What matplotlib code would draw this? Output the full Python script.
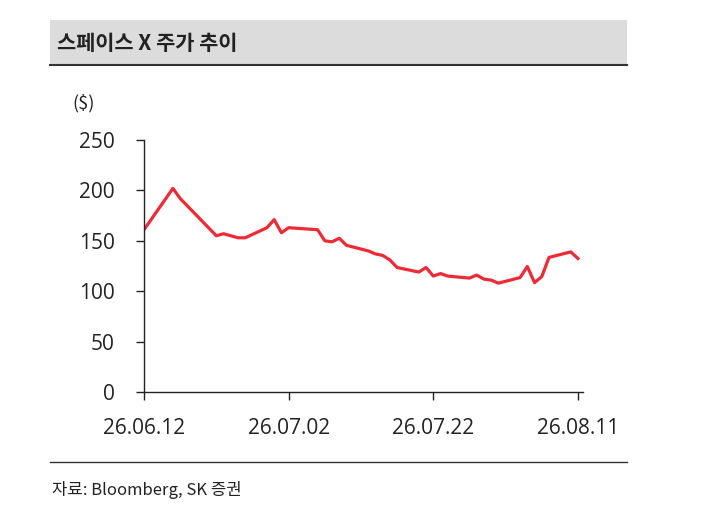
import matplotlib
matplotlib.use("Agg")
import matplotlib.pyplot as plt
import pandas as pd

plt.rcParams['font.family'] = ['Noto Sans CJK KR', 'DejaVu Sans']

# SpaceX share price
dates = ["2026-06-12", "2026-06-16", "2026-06-17", "2026-06-22", "2026-06-23",
         "2026-06-24", "2026-06-25", "2026-06-26", "2026-06-29", "2026-06-30",
         "2026-07-01", "2026-07-02", "2026-07-06", "2026-07-07", "2026-07-08",
         "2026-07-09", "2026-07-10", "2026-07-13", "2026-07-14", "2026-07-15",
         "2026-07-16", "2026-07-17", "2026-07-20", "2026-07-21", "2026-07-22",
         "2026-07-23", "2026-07-24", "2026-07-27", "2026-07-28", "2026-07-29",
         "2026-07-30", "2026-07-31", "2026-08-03", "2026-08-04", "2026-08-05",
         "2026-08-06", "2026-08-07", "2026-08-10", "2026-08-11"]
price = [161, 202, 192, 155, 157,
         155, 153, 153, 163, 171,
         158, 163, 161, 150, 149,
         152.5, 145.5, 140, 137, 135.5,
         131, 123.5, 119, 123.5, 115,
         117.5, 115, 113, 116, 112,
         111, 108, 113.5, 124.5, 108.5,
         114.5, 133.5, 139, 132.5]

xtick_dates = ["2026-06-12", "2026-07-02", "2026-07-22", "2026-08-11"]
xtick_labels = ["26.06.12", "26.07.02", "26.07.22", "26.08.11"]
yticks = [0, 50, 100, 150, 200, 250]

title = "스페이스 X 주가 추이"
unit = "($)"
source = "자료: Bloomberg, SK 증권"

x = pd.to_datetime(dates)
xt = pd.to_datetime(xtick_dates)

fig = plt.figure(figsize=(7.04, 5.22), dpi=100)

# header band
W, H = 704, 522
fig.patches.append(plt.Rectangle((50 / W, 1 - 65 / H), 577 / W, 45 / H,
                                 transform=fig.transFigure, facecolor="#dcdcdc",
                                 edgecolor="none", zorder=0))
fig.add_artist(plt.Line2D([50 / W, 627 / W], [1 - 65 / H, 1 - 65 / H],
                          transform=fig.transFigure, color="#333333", lw=1.5))
fig.text(57 / W, 1 - 43 / H, title, fontsize=15, fontweight="bold",
         color="#222222", va="center", ha="left")

# bottom rule and source
fig.add_artist(plt.Line2D([50 / W, 627 / W], [1 - 462 / H, 1 - 462 / H],
                          transform=fig.transFigure, color="#333333", lw=1.0))
fig.text(52 / W, 1 - 490 / H, source, fontsize=12, color="#222222",
         va="center", ha="left")

ax = fig.add_axes([144 / W, 1 - 392 / H, 439 / W, 252 / H])
ax.plot(x, price, color="#ee2a35", lw=2.3, solid_joinstyle="round")

ax.set_ylim(0, 250)
ax.set_yticks(yticks)
ax.set_xlim(xt[0], xt[-1] + pd.Timedelta(days=0.7))
ax.set_xticks(xt)
ax.set_xticklabels(xtick_labels)

for s in ["top", "right"]:
    ax.spines[s].set_visible(False)
for s in ["left", "bottom"]:
    ax.spines[s].set_color("#222222")
    ax.spines[s].set_linewidth(1.0)

ax.tick_params(axis="y", direction="out", length=6, width=1, color="#222222",
               labelsize=15, labelcolor="#222222", pad=15)
ax.tick_params(axis="x", direction="out", length=6, width=1, color="#222222",
               labelsize=15, labelcolor="#222222", pad=13)
for lab in ax.get_xticklabels() + ax.get_yticklabels():
    lab.set_family(["Open Sans", "DejaVu Sans"])

fig.text(72 / W, 1 - 103 / H, unit, fontsize=13, color="#222222",
         va="center", ha="left")

fig.savefig("out.png", dpi=100)
